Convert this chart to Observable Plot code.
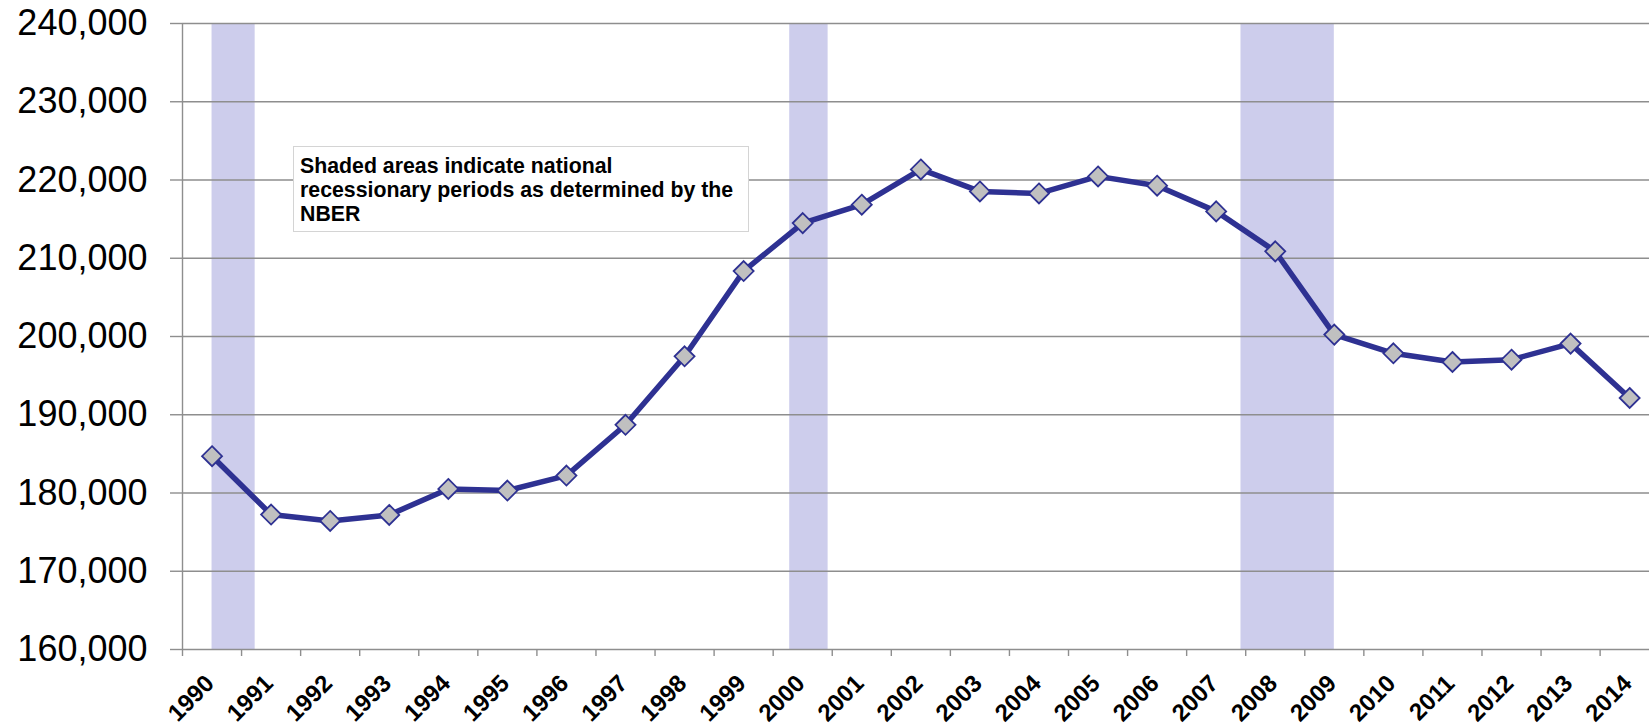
<!DOCTYPE html>
<html>
<head>
<meta charset="utf-8">
<script src="https://cdn.jsdelivr.net/npm/d3@7"></script>
<script src="https://cdn.jsdelivr.net/npm/@observablehq/plot@0.6"></script>
<style>
  html, body { margin: 0; padding: 0; background: #fff; overflow: hidden; }
  #wrap { position: relative; width: 1649px; height: 723px; }
  #note {
    position: absolute; left: 293px; top: 146px; width: 456px; height: 86px;
    box-sizing: border-box; border: 1px solid #d4d4d4; background: #fff;
    font: bold 21.3px "Liberation Sans", Arial, sans-serif; line-height: 24px;
    padding: 6.5px 0 0 6px; color: #000; z-index: 2; white-space: nowrap;
  }
</style>
</head>
<body>
<div id="wrap">
  <div id="note">Shaded areas indicate national<br>recessionary periods as determined by the<br>NBER</div>
</div>
<script>
// ---- data ----
const years = [1990, 1991, 1992, 1993, 1994, 1995, 1996, 1997, 1998, 1999, 2000, 2001, 2002,
               2003, 2004, 2005, 2006, 2007, 2008, 2009, 2010, 2011, 2012, 2013, 2014];
const values = [184700, 177250, 176430, 177200, 180520, 180310, 182230, 188720, 197470, 208360,
                214490, 216840, 221350, 218540, 218280, 220460, 219270, 215990, 210880, 200240,
                197850, 196740, 197040, 199090, 192140];
const recessionStart = [1990.0, 1999.78, 2007.42];
const recessionEnd   = [1990.73, 2000.43, 2009.0];
const yTicks = [160000, 170000, 180000, 190000, 200000, 210000, 220000, 230000, 240000];

// ---- derived tables ----
const series = years.map((y, i) => ({year: y, value: values[i]}));
const recessions = recessionStart.map((s, i) => ({start: s, end: recessionEnd[i]}));
const boundaries = years.map(y => y - 0.5);

const navy = "#2e3192";
const grid = "#8e8e8e";
const font = '"Liberation Sans", Arial, Helvetica, sans-serif';

// square diamond symbol (rotated square), r = half-diagonal
const diamond = {
  draw(context, size) {
    const r = Math.sqrt(size / Math.PI);
    context.moveTo(0, -r);
    context.lineTo(r, 0);
    context.lineTo(0, r);
    context.lineTo(-r, 0);
    context.closePath();
  }
};

const chart = Plot.plot({
  width: 1649,
  height: 723,
  marginLeft: 182,
  marginRight: 0,
  marginTop: 23,
  marginBottom: 74,
  style: {fontFamily: font, background: "#fff", color: "#000", overflow: "visible"},
  x: {domain: [1989.5, 2014.336]},
  y: {domain: [160000, 240000]},
  marks: [
    Plot.rectX(recessions, {x1: "start", x2: "end", y1: 160000, y2: 240000, fill: "#cdcdec"}),
    Plot.ruleY(yTicks, {stroke: grid, strokeWidth: 1.4}),
    Plot.ruleX([1989.5], {stroke: grid, strokeWidth: 1.4}),
    Plot.axisY(yTicks, {
      tickSize: 12, tickPadding: 23, fontSize: 36, stroke: grid, strokeWidth: 1.4,
      fill: "#000", tickFormat: d3.format(","), label: null
    }),
    Plot.axisX(boundaries, {
      tickSize: 7, stroke: grid, strokeWidth: 1.4, tickFormat: () => "", label: null
    }),
    Plot.axisX(years, {
      tickSize: 0, tickPadding: 30, tickRotate: -45, textAnchor: "end", lineAnchor: "middle",
      dx: -2, fontSize: 24, fontWeight: "bold", fill: "#000",
      tickFormat: d => String(d), label: null
    }),
    Plot.line(series, {x: "year", y: "value", stroke: navy, strokeWidth: 5.5, curve: "linear"}),
    Plot.dot(series, {x: "year", y: "value", symbol: diamond, r: 10, fill: "#c0c0c0", stroke: navy, strokeWidth: 1.8})
  ]
});

document.getElementById("wrap").prepend(chart);
</script>
</body>
</html>
